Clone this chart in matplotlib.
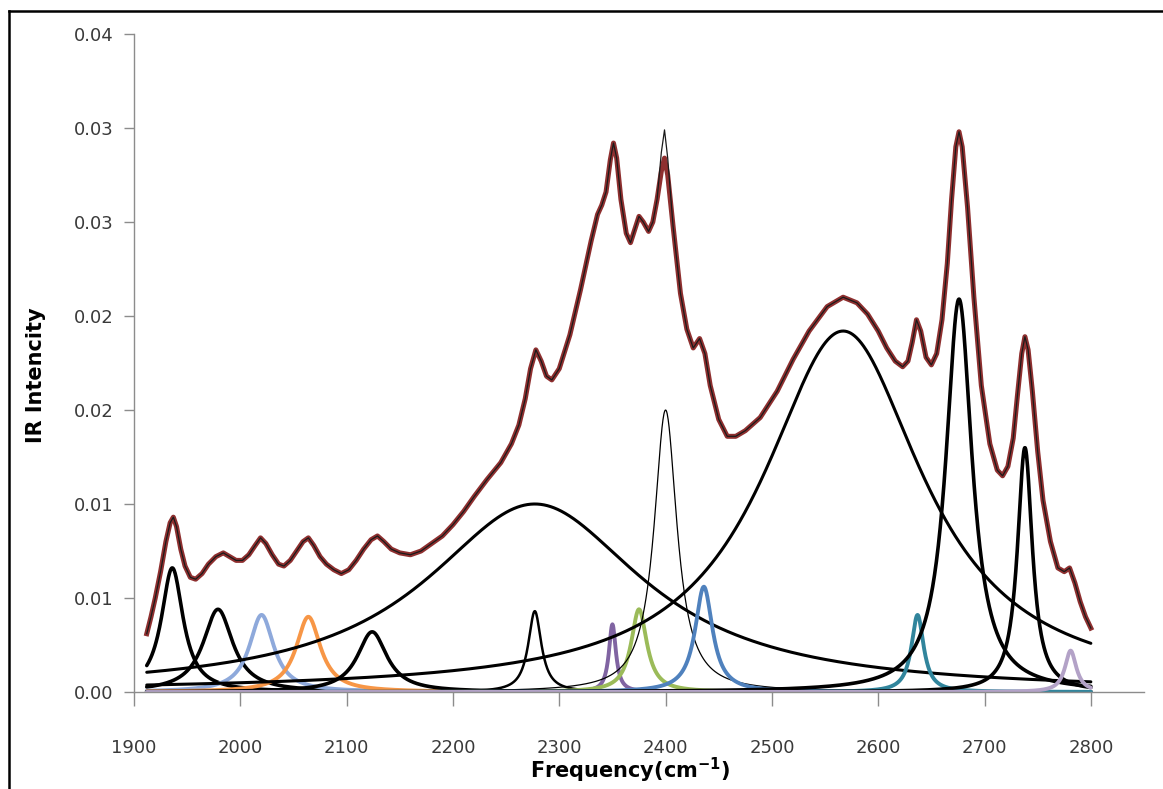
import numpy as np
import matplotlib
matplotlib.use("Agg")
import matplotlib.pyplot as plt
from matplotlib.lines import Line2D

# ---------------- data ----------------
# fitted spectrum (dark red) sampled along the curve
fit_freq = [1912, 1916, 1920, 1925, 1930, 1934, 1937, 1940, 1944, 1948, 1953, 1958,
            1964, 1970, 1977, 1984, 1990, 1996, 2002, 2008, 2014, 2019, 2024, 2030,
            2036, 2041, 2047, 2053, 2059, 2064, 2069, 2075, 2081, 2088, 2095, 2102,
            2109, 2116, 2123, 2129, 2135, 2142, 2150, 2160, 2170, 2180, 2190, 2200,
            2210, 2220, 2232, 2245, 2255, 2262, 2268, 2273, 2278, 2283, 2288, 2293,
            2300, 2310, 2320, 2330, 2336, 2340, 2344, 2348, 2351, 2354, 2358, 2363,
            2367, 2371, 2375, 2379, 2384, 2388, 2392, 2396, 2399, 2402, 2407, 2414,
            2420, 2426, 2432, 2437, 2442, 2450, 2458, 2466, 2475, 2489, 2505, 2520,
            2535, 2552, 2567, 2580, 2590, 2600, 2608, 2616, 2623, 2628, 2632, 2636,
            2640, 2645, 2650, 2655, 2660, 2665, 2669, 2673, 2676, 2679, 2684, 2690,
            2697, 2705, 2712, 2717, 2722, 2727, 2731, 2735, 2738, 2741, 2745, 2750,
            2755, 2762, 2769, 2775, 2780, 2785, 2790, 2795, 2800]
fit_intensity = [0.0031, 0.0040, 0.0050, 0.0064, 0.0080, 0.0090, 0.0093, 0.0088, 0.0076, 0.0067, 0.0061, 0.0060,
                 0.0063, 0.0068, 0.0072, 0.0074, 0.0072, 0.0070, 0.0070, 0.0073, 0.0078, 0.0082, 0.0079, 0.0073,
                 0.0068, 0.0067, 0.0070, 0.0075, 0.0080, 0.0082, 0.0078, 0.0072, 0.0068, 0.0065, 0.0063, 0.0065,
                 0.0070, 0.0076, 0.0081, 0.0083, 0.0080, 0.0076, 0.0074, 0.0073, 0.0075, 0.0079, 0.0083, 0.0089,
                 0.0096, 0.0104, 0.0113, 0.0122, 0.0132, 0.0142, 0.0156, 0.0172, 0.0182, 0.0176, 0.0168, 0.0166,
                 0.0172, 0.0190, 0.0214, 0.0240, 0.0254, 0.0259, 0.0266, 0.0283, 0.0292, 0.0284, 0.0262, 0.0244,
                 0.0239, 0.0246, 0.0253, 0.0250, 0.0245, 0.0250, 0.0262, 0.0277, 0.0284, 0.0275, 0.0248, 0.0212,
                 0.0193, 0.0183, 0.0188, 0.0180, 0.0163, 0.0145, 0.0136, 0.0136, 0.0139, 0.0146, 0.0160, 0.0177,
                 0.0192, 0.0205, 0.0210, 0.0207, 0.0201, 0.0192, 0.0183, 0.0176, 0.0173, 0.0176, 0.0186, 0.0198,
                 0.0192, 0.0178, 0.0174, 0.0180, 0.0198, 0.0228, 0.0262, 0.0290, 0.0298, 0.0290, 0.0258, 0.0210,
                 0.0163, 0.0132, 0.0118, 0.0115, 0.0120, 0.0135, 0.0158, 0.0180, 0.0189, 0.0182, 0.0160, 0.0128,
                 0.0102, 0.0080, 0.0066, 0.0064, 0.0066, 0.0058, 0.0048, 0.0040, 0.0034]

# observed spectrum (thin black) differs from the fit only at the 2400 peak
obs_diff_freq = [2396, 2399, 2402]
obs_diff_intensity = [0.0287, 0.0299, 0.0284]

# Lorentzian components: centre, height, half width at half maximum
comp_center = [1936, 1979, 2020, 2064, 2124, 2277, 2277, 2350, 2375, 2400, 2436, 2567, 2637, 2676, 2738, 2781]
comp_height = [0.0066, 0.0044, 0.0041, 0.0040, 0.0032, 0.0100, 0.0043, 0.0036, 0.0044, 0.0150, 0.0056, 0.0192, 0.0041, 0.0209, 0.0130, 0.0022]
comp_hwhm = [12.5, 17, 14, 14, 17, 125, 7.5, 4, 9, 13, 10, 92, 7, 15, 8.5, 6.5]
comp_color = ['black', 'black', '#8EA9DB', '#F79646', 'black', 'black', 'black', '#8064A2',
              '#9BBB59', 'black', '#4F81BD', 'black', '#31859C', 'black', 'black', '#B3A2C7']
comp_width = [2.6, 2.6, 2.8, 2.8, 2.6, 2.2, 1.8, 2.8, 2.8, 0.9, 2.8, 2.2, 2.8, 2.6, 2.6, 2.8]

x_ticks = [1900, 2000, 2100, 2200, 2300, 2400, 2500, 2600, 2700, 2800]
y_ticks = [0.0, 0.005, 0.010, 0.015, 0.020, 0.025, 0.030, 0.035]
y_tick_labels = ["0.00", "0.01", "0.01", "0.02", "0.02", "0.03", "0.03", "0.04"]

# ---------------- figure ----------------
fig = plt.figure(figsize=(11.63, 7.89), dpi=100)
ax = fig.add_axes([134 / 1163, 1 - 692 / 789, (1144 - 134) / 1163, (692 - 34) / 789])

grid = np.linspace(min(fit_freq), max(fit_freq), 2000)
for c, h, g, col, lw in zip(comp_center, comp_height, comp_hwhm, comp_color, comp_width):
    y = h / (1.0 + ((grid - c) / g) ** 2)
    ax.plot(grid, y, color=col, lw=lw, solid_capstyle='round', zorder=2)

fit_freq_a = np.array(fit_freq, dtype=float)
fit_int_a = np.array(fit_intensity, dtype=float)
obs_int_a = fit_int_a.copy()
for f, v in zip(obs_diff_freq, obs_diff_intensity):
    obs_int_a[fit_freq_a == f] = v

ax.plot(fit_freq_a, fit_int_a, color='#8E2F2F', lw=3.6, solid_joinstyle='round', zorder=3)
ax.plot(fit_freq_a, obs_int_a, color='#1a1a1a', lw=0.9, solid_joinstyle='round', zorder=4)

ax.set_xlim(1900, 2850)
ax.set_ylim(0, 0.035)
ax.set_xticks(x_ticks)
ax.set_yticks(y_ticks)
ax.set_yticklabels(y_tick_labels)

for s in ['top', 'right']:
    ax.spines[s].set_visible(False)
for s in ['left', 'bottom']:
    ax.spines[s].set_color('#8c8c8c')
    ax.spines[s].set_linewidth(1.0)
ax.tick_params(axis='y', direction='out', length=7, width=1, color='#8c8c8c',
               labelsize=13, labelcolor='#3a3a3a', pad=8)
ax.tick_params(axis='x', direction='out', length=10, width=1, color='#8c8c8c',
               labelsize=13, labelcolor='#3a3a3a', pad=24)

fig.text(630 / 1163, 1 - 770 / 789, 'Frequency(cm$^{\\mathbf{-1}}$)', ha='center', va='center',
         fontsize=15, fontweight='bold', color='black')
fig.text(36 / 1163, 1 - 375 / 789, 'IR Intencity', ha='center', va='center', rotation=90,
         fontsize=15, fontweight='bold', color='black')

# outer frame (left and top edges visible)
fig.add_artist(Line2D([9 / 1163, 9 / 1163], [0, 1 - 11 / 789], color='black', lw=1.8,
                      transform=fig.transFigure))
fig.add_artist(Line2D([9 / 1163, 1], [1 - 11 / 789, 1 - 11 / 789], color='black', lw=1.8,
                      transform=fig.transFigure))

fig.savefig('out.png', dpi=100)
